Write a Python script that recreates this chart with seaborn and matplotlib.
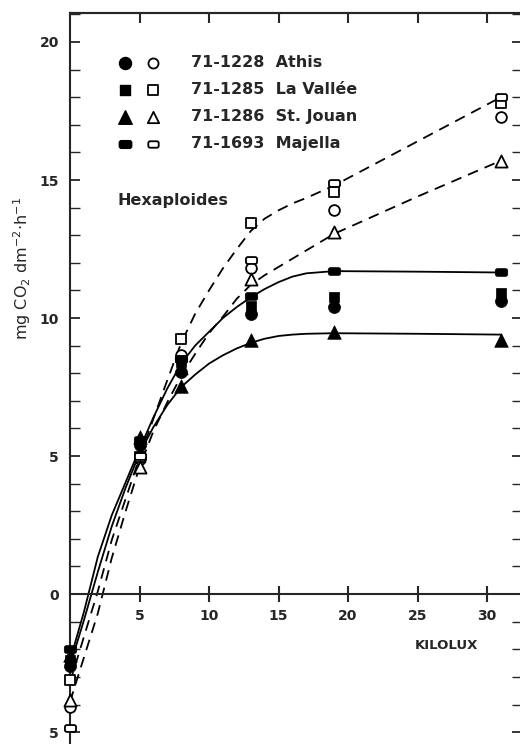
import numpy as np
import pandas as pd
import seaborn as sns
import matplotlib.pyplot as plt
from matplotlib.markers import MarkerStyle
from matplotlib.patches import BoxStyle
from matplotlib.ticker import MultipleLocator, FuncFormatter

# mesures (kilolux -> mg CO2)
kilolux = [0, 5, 8, 13, 19, 31]
athis_plein = [-2.6, 5.4, 8.05, 10.15, 10.4, 10.6]
athis_vide = [-4.1, 4.9, 8.65, 11.8, 13.9, 17.3]
vallee_plein = [-2.4, 5.5, 8.4, 10.45, 10.75, 10.9]
vallee_vide = [-3.1, 4.95, 9.25, 13.45, 14.55, 17.8]
jouan_plein = [-2.2, 5.7, 7.55, 9.2, 9.5, 9.2]
jouan_vide = [-3.85, 4.6, 8.2, 11.4, 13.1, 15.7]
majella_plein = [-2.0, 5.6, 8.5, 10.8, 11.7, 11.65]
majella_vide = [-4.85, 5.0, 8.5, 12.1, 14.9, 18.0]

# courbes tracees a la main
courbe_x = [0, 1, 2, 3, 4, 5, 6, 7, 8, 9, 10, 11, 12, 13, 14, 15, 16, 17, 19, 25, 31]
courbe_haut = [-2.4, -0.65, 1.35, 2.85, 4.05, 5.25, 6.4, 7.45, 8.35, 9.0, 9.5, 10.0, 10.4,
               10.75, 11.05, 11.3, 11.5, 11.62, 11.7, 11.68, 11.65]
courbe_bas = [-2.6, -0.95, 0.8, 2.45, 3.85, 5.1, 6.05, 6.85, 7.5, 7.95, 8.35, 8.65, 8.9,
              9.1, 9.25, 9.35, 9.4, 9.43, 9.45, 9.43, 9.4]
tirets_haut = [-3.2, -1.55, 0.1, 1.95, 3.45, 4.95, 6.35, 7.75, 9.1, 10.15, 11.0, 11.8, 12.5,
               13.15, 13.6, 13.9, 14.15, 14.35, 14.8, 16.4, 18.0]
tirets_bas = [-3.9, -2.3, -0.7, 1.3, 3.0, 4.6, 5.9, 6.95, 7.9, 8.7, 9.45, 10.05, 10.7,
              11.2, 11.55, 11.85, 12.15, 12.45, 13.05, 14.4, 15.7]

noms = ['71-1228  Athis', '71-1285  La Vallée', '71-1286  St. Jouan', '71-1693  Majella']

sns.set_style("ticks")
plt.rcParams['font.family'] = ['DejaVu Sans']

# rectangle arrondi pour Majella
rect_rond = MarkerStyle(BoxStyle.Round(pad=0, rounding_size=0.35)(-1, -0.62, 2, 1.24, 1.0))
marqueurs = ['o', 's', '^', rect_rond]
tailles = [75, 62, 95, 80]

fig = plt.figure(figsize=(5.2, 7.44), dpi=100)
ax = fig.add_axes([70 / 520, 0, 452 / 520, 731 / 744])

# courbes
df_courbes = pd.DataFrame({
    'x': courbe_x * 4,
    'y': courbe_haut + courbe_bas + tirets_haut + tirets_bas,
    'c': ['a'] * 21 + ['b'] * 21 + ['c'] * 21 + ['d'] * 21,
})
for c, ls in zip(['a', 'b', 'c', 'd'], ['-', '-', (0, (6, 4)), (0, (6, 4))]):
    sns.lineplot(data=df_courbes[df_courbes['c'] == c], x='x', y='y', color='black',
                 linewidth=1.3, linestyle=ls, estimator=None, sort=False, ax=ax, zorder=2)

# points
vides = [athis_vide, vallee_vide, jouan_vide, majella_vide]
pleins = [athis_plein, vallee_plein, jouan_plein, majella_plein]
for m, t, v in zip(marqueurs, tailles, vides):
    sns.scatterplot(x=kilolux, y=v, marker=m, s=t * 0.8, facecolor='white', edgecolor='black',
                    linewidth=1.3, ax=ax, zorder=3, clip_on=False)
for m, t, p in zip(marqueurs, tailles, pleins):
    sns.scatterplot(x=kilolux, y=p, marker=m, s=t, color='black', edgecolor='black',
                    linewidth=0.5, ax=ax, zorder=4, clip_on=False)

# legende faite a la main
for i, (m, t, nom) in enumerate(zip(marqueurs, tailles, noms)):
    yy = 0.932 - i * 0.037
    ax.scatter([0.122], [yy], marker=m, s=t, color='black', transform=ax.transAxes, clip_on=False)
    ax.scatter([0.184], [yy], marker=m, s=t * 0.7, facecolor='white', edgecolor='black',
               linewidth=1.3, transform=ax.transAxes, clip_on=False)
    ax.text(0.267, yy, nom, transform=ax.transAxes, va='center', ha='left',
            fontsize=11.5, fontweight='bold')
ax.text(0.104, 0.744, 'Hexaploides', transform=ax.transAxes, va='center', ha='left',
        fontsize=11.5, fontweight='bold')

# axes
ax.set_xlim(0, 452 / 13.9)
ax.set_ylim(-5.43, 21.05)
ax.spines['bottom'].set_position(('data', 0))
ax.spines['right'].set_visible(False)
for s in ['left', 'bottom', 'top']:
    ax.spines[s].set_linewidth(1.5)

ax.set_xticks([5, 10, 15, 20, 25, 30])
ax.xaxis.set_major_formatter(FuncFormatter(lambda v, p: f'{v:g}'))
ax.tick_params(axis='x', direction='inout', length=11, width=1.5, labelsize=10,
               pad=5, bottom=True, top=False)
for lab in ax.get_xticklabels():
    lab.set_fontweight('bold')

ax.yaxis.set_major_locator(MultipleLocator(5))
ax.yaxis.set_minor_locator(MultipleLocator(1))
ax.yaxis.set_major_formatter(FuncFormatter(lambda v, p: f'{abs(v):g}'))
ax.tick_params(axis='y', which='both', direction='in', length=7, width=1.3,
               left=True, right=True, labelsize=10, pad=8)
ax.tick_params(axis='y', which='minor', width=1.0)
for lab in ax.get_yticklabels():
    lab.set_fontweight('bold')

haut = ax.secondary_xaxis('top')
haut.set_xticks([5, 10, 15, 20, 25, 30])
haut.tick_params(direction='in', length=7, width=1.5, labeltop=False)
haut.spines['top'].set_linewidth(1.5)

ax.set_xlabel('')
ax.set_ylabel('')
ax.text(0.833, 0.135, 'KILOLUX', transform=ax.transAxes, ha='center', va='center',
        fontsize=9.5, fontweight='bold')
fig.text(22 / 520, 1 - 268 / 744, r'mg CO$_2$ dm$^{-2}$$\cdot$h$^{-1}$', rotation=90,
         ha='center', va='center', fontsize=11.5)

fig.savefig('out.png', dpi=100)
